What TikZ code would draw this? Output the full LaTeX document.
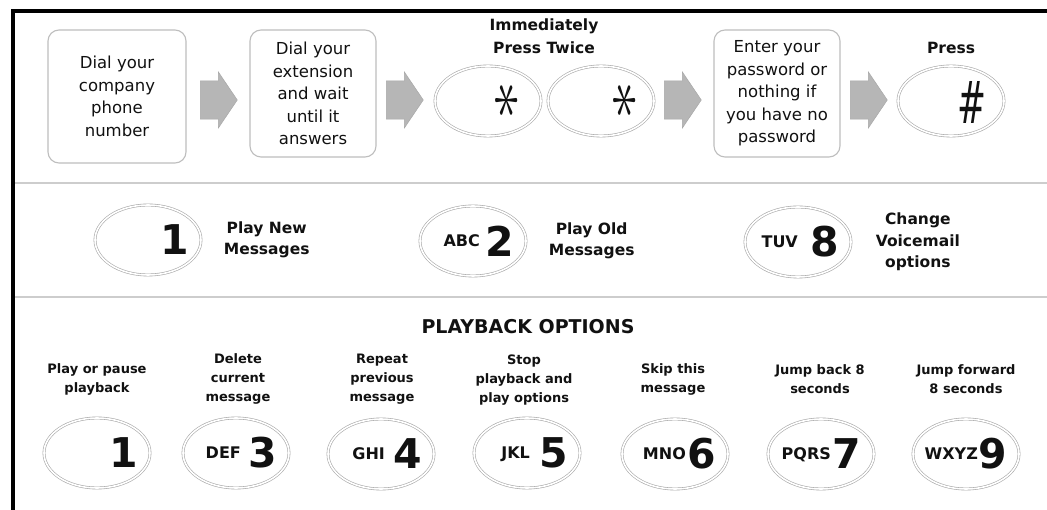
\documentclass[tikz,border=0pt]{standalone}
\usepackage{xcolor}
\usepackage{graphicx}
\usepackage{fontspec}
\setmainfont{DejaVu Sans}
\usepackage{tikz}
\usetikzlibrary{shapes.geometric, shapes.arrows, positioning}
\definecolor{keyline}{HTML}{A8A8A8}
\definecolor{boxline}{HTML}{BEBEBE}
\definecolor{arrowfill}{HTML}{B6B6B6}
\definecolor{sepgray}{HTML}{CDCDCD}
\definecolor{inkblack}{HTML}{111111}

\begin{document}
\begin{tikzpicture}[x=1pt, y=-1pt,
        stepbox/.style={draw=boxline, line width=1.1pt, rounded corners=11pt, align=center, font=\fontsize{16.5}{22.5}\selectfont, text=inkblack, inner sep=0pt},
        key/.style={ellipse, draw=keyline, line width=0.6pt, double=white, double distance=1.6pt, minimum width=106pt, minimum height=70pt, inner sep=0pt},
        digit/.style={font=\fontsize{41}{41}\selectfont\bfseries, inner sep=0pt, anchor=east, text=inkblack},
        letters/.style={font=\fontsize{16}{16}\selectfont\bfseries, inner sep=0pt, text height=11.7pt, text depth=0pt, text=inkblack},
        glyph/.style={inner sep=0pt, text=inkblack},
        note/.style={font=\fontsize{13}{19}\selectfont\bfseries, align=center, text=inkblack},
        menu/.style={font=\fontsize{15.5}{21.5}\selectfont\bfseries, align=center, text=inkblack},
        blockarrow/.style={single arrow, fill=arrowfill, draw=keyline, line width=0.5pt, minimum height=37pt, minimum width=56pt, inner xsep=0pt, inner ysep=15pt, single arrow tip angle=112, anchor=tail},
        sepline/.style={sepgray, line width=1.6pt}
    ]
        \useasboundingbox (0,0) rectangle (1047,510);
        \fill [white] (0,0) rectangle (1047,510);
        \draw [line width=4pt] (12.5,510) -- (12.5,11) -- (1047,11);

        % log-in steps
        \node (dial) [stepbox, minimum width=138pt, minimum height=133pt] at (117,96.5) {Dial your\\company\\phone\\number};
        \node (ext) [stepbox, minimum width=126pt, minimum height=127pt] at (313,93.5) {Dial your\\extension\\and wait\\until it\\answers};
        \node (star1) [key] at (488,101) {};
        \node (star2) [key] at (601,101) {};
        \node (pass) [stepbox, minimum width=126pt, minimum height=127pt] at (777,93.5) {Enter your\\password or\\nothing if\\you have no\\password};
        \node (hash) [key] at (951,101) {};

        \node (ar1) [blockarrow] at (200,100) {};
        \node (ar2) [blockarrow] at (386,100) {};
        \node (ar3) [blockarrow] at (664,100) {};
        \node (ar4) [blockarrow] at (850,100) {};

        \node (star1g) [glyph] at ([xshift=19.5pt]star1.center) {\resizebox{24pt}{40pt}{\rotatebox{90}{$\ast$}}};
        \node (star2g) [glyph] at ([xshift=24.5pt]star2.center) {\resizebox{24pt}{40pt}{\rotatebox{90}{$\ast$}}};
        \node (hashg) [glyph] at ([xshift=21pt, yshift=-1pt]hash.center) {\resizebox{29pt}{42pt}{$\#$}};

        \node (twice) [note, font=\fontsize{15.5}{23}\selectfont\bfseries] at (544,36.5) {Immediately\\Press Twice};
        \node (press) [note, font=\fontsize{15.5}{23}\selectfont\bfseries] at (951,48) {Press};

        \draw [sepline] (15,183) -- (1047,183);
        \draw [sepline] (15,297) -- (1047,297);

        % main menu
        \node (new) [key] at (148,240) {};
        \node (newd) [digit] at ([xshift=41pt]new.center) {1};
        \node (newt) [menu, right=19pt of new] {Play New\\Messages};

        \node (old) [key] at (473,241) {};
        \node (oldd) [digit] at ([xshift=41pt]old.center) {2};
        \node (oldl) [letters, left=5pt of oldd] {ABC};
        \node (oldt) [menu, right=19pt of old] {Play Old\\Messages};

        \node (opt) [key] at (798,242) {};
        \node (optd) [digit] at ([xshift=41pt]opt.center) {8};
        \node (optl) [letters, left=12pt of optd] {TUV};
        \node (optt) [menu, right=21pt of opt] {Change\\Voicemail\\options};

        % playback options
        \node (title) [font=\fontsize{19}{19}\selectfont\bfseries, text=inkblack] at (528,327) {PLAYBACK OPTIONS};

        \node (pause) [key] at (97,453) {};
        \node (paused) [digit] at ([xshift=41pt]pause.center) {1};
        \node (pauset) [note] at (97,379) {Play or pause\\playback};

        \node (del) [key] at (236,453) {};
        \node (deld) [digit] at ([xshift=41pt]del.center) {3};
        \node (dell) [letters, left=7pt of deld] {DEF};
        \node (delt) [note] at (238,379) {Delete\\current\\message};

        \node (rep) [key] at (381,454) {};
        \node (repd) [digit] at ([xshift=41pt]rep.center) {4};
        \node (repl) [letters, left=8pt of repd] {GHI};
        \node (rept) [note] at (382,379) {Repeat\\previous\\message};

        \node (stop) [key] at (527,453) {};
        \node (stopd) [digit] at ([xshift=41pt]stop.center) {5};
        \node (stopl) [letters, left=9pt of stopd] {JKL};
        \node (stopt) [note] at (524,380) {Stop\\playback and\\play options};

        \node (skip) [key] at (675,454) {};
        \node (skipd) [digit] at ([xshift=41pt]skip.center) {6};
        \node (skipl) [letters, left=1pt of skipd] {MNO};
        \node (skipt) [note] at (673,379) {Skip this\\message};

        \node (back) [key] at (821,454) {};
        \node (backd) [digit] at ([xshift=40pt]back.center) {7};
        \node (backl) [letters, left=1pt of backd] {PQRS};
        \node (backt) [note] at (820,379) {Jump back 8\\seconds};

        \node (fwd) [key] at (966,454) {};
        \node (fwdd) [digit] at ([xshift=41pt]fwd.center) {9};
        \node (fwdl) [letters, left=0pt of fwdd] {WXYZ};
        \node (fwdt) [note] at (966,379) {Jump forward\\8 seconds};
    \end{tikzpicture}
\end{document}
